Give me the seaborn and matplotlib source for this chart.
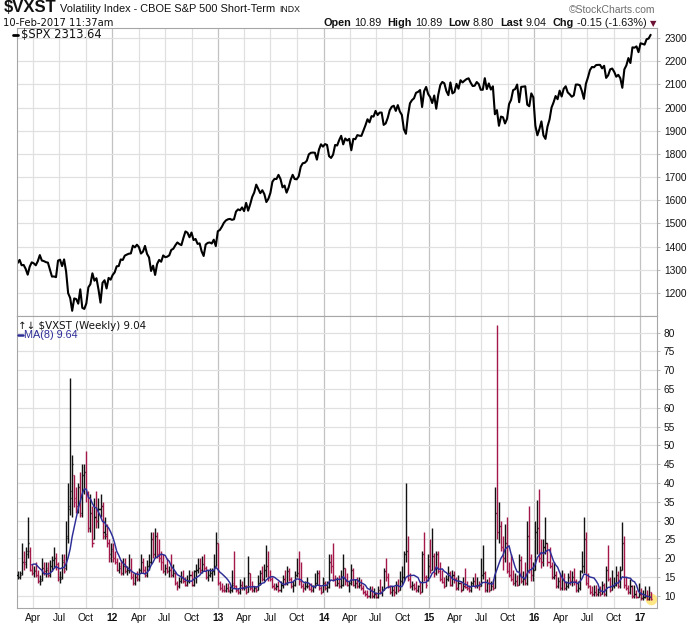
import numpy as np
import pandas as pd
import matplotlib
matplotlib.use('Agg')
import matplotlib.pyplot as plt
import matplotlib.dates as mdates
from matplotlib.lines import Line2D
from matplotlib.transforms import IdentityTransform
import seaborn as sns

# ---------------- data ----------------
# $SPX weekly closes (weeks ending Feb 11 2011 ... Feb 10 2017)
spx_2011 = [1329.15, 1343.01, 1319.88, 1321.15, 1304.28, 1279.20, 1313.80, 1332.41, 1328.17, 1319.68,
            1337.38, 1363.61, 1340.20, 1337.77, 1333.27, 1331.10, 1300.16, 1270.98, 1271.50, 1268.45,
            1339.67, 1343.80, 1316.14, 1345.02, 1292.28, 1199.38, 1178.81, 1123.53, 1176.80, 1173.97,
            1154.23, 1216.01, 1136.43, 1131.42, 1155.46, 1224.58, 1238.25, 1285.09, 1253.23, 1263.85,
            1215.65, 1158.67, 1244.28, 1255.19, 1219.66, 1265.33, 1257.60]
spx_2012 = [1277.81, 1289.09, 1315.38, 1316.33, 1344.90, 1342.64, 1361.23, 1365.74, 1369.63, 1370.87,
            1404.17, 1397.11, 1408.47, 1398.08, 1370.26, 1378.53, 1403.36, 1369.10, 1353.39, 1295.22,
            1317.82, 1278.04, 1325.66, 1342.84, 1335.02, 1362.16, 1354.68, 1356.78, 1362.66, 1385.97,
            1390.99, 1405.87, 1418.16, 1411.13, 1406.58, 1437.92, 1465.77, 1460.15, 1440.67, 1460.93,
            1428.59, 1433.19, 1411.94, 1414.20, 1379.85, 1359.88, 1409.15, 1416.18, 1418.07, 1413.58,
            1430.15, 1402.43]
spx_2013 = [1466.47, 1472.05, 1485.98, 1502.96, 1513.17, 1517.93, 1519.79, 1515.60, 1518.20, 1551.18,
            1560.70, 1556.89, 1569.19, 1553.28, 1588.85, 1555.25, 1582.24, 1614.42, 1633.70, 1667.47,
            1649.60, 1630.74, 1643.38, 1626.73, 1592.43, 1606.28, 1631.89, 1680.19, 1692.09, 1691.65,
            1709.67, 1691.42, 1655.83, 1663.50, 1632.97, 1655.17, 1687.99, 1709.91, 1691.75, 1690.50,
            1703.20, 1744.50, 1759.77, 1761.64, 1770.61, 1798.18, 1804.76, 1805.81, 1805.09, 1775.32,
            1818.32, 1841.40]
spx_2014 = [1831.37, 1842.37, 1838.70, 1790.29, 1782.59, 1797.02, 1838.63, 1836.25, 1859.45, 1878.04,
            1841.13, 1866.52, 1857.62, 1865.09, 1815.69, 1864.85, 1863.40, 1881.14, 1878.48, 1877.86,
            1900.53, 1923.57, 1949.44, 1936.16, 1962.87, 1960.96, 1985.44, 1967.57, 1978.22, 1978.34,
            1925.15, 1931.59, 1955.06, 1988.40, 2003.37, 2007.71, 1985.54, 2010.40, 1982.85, 1967.90,
            1906.13, 1886.76, 1964.58, 2018.05, 2031.92, 2039.82, 2063.50, 2067.56, 2075.37, 2002.33,
            2070.65, 2088.77]
spx_2015 = [2058.20, 2044.81, 2019.42, 2051.82, 1994.99, 2055.47, 2096.99, 2110.30, 2104.50, 2071.26,
            2053.40, 2108.10, 2061.02, 2066.96, 2102.06, 2081.18, 2117.69, 2108.29, 2116.10, 2122.73,
            2126.06, 2107.39, 2092.83, 2094.11, 2109.99, 2101.49, 2076.78, 2076.62, 2126.64, 2079.65,
            2103.84, 2077.57, 2091.54, 1970.89, 1988.87, 1921.22, 1961.05, 1958.03, 1931.34, 1951.36,
            2014.89, 2033.11, 2075.15, 2079.36, 2099.20, 2023.04, 2089.17, 2090.11, 2091.69, 2012.37,
            2005.55, 2060.99, 2043.94]
spx_2016 = [1922.03, 1880.33, 1906.90, 1940.24, 1880.05, 1864.78, 1917.78, 1948.05, 1999.99, 2022.19,
            2049.58, 2035.94, 2072.78, 2047.60, 2080.73, 2091.58, 2065.30, 2057.14, 2046.61, 2052.32,
            2099.06, 2099.13, 2096.07, 2071.22, 2037.41, 2102.95, 2129.90, 2161.74, 2175.03, 2173.60,
            2182.87, 2184.05, 2183.87, 2169.04, 2179.98, 2127.81, 2139.16, 2164.69, 2168.27, 2153.74,
            2132.98, 2141.16, 2126.41, 2085.18, 2164.45, 2181.90, 2213.35, 2191.95, 2259.53, 2258.07,
            2263.79, 2238.83]
spx_2017 = [2276.98, 2274.64, 2271.31, 2294.69, 2297.42, 2313.64]

# $VXST weekly OHLC
vx_open = [
    15.5, 15, 16, 19, 19, 22, 22, 17, 16, 17, 15.5, 14, 14.5, 17.5, 16.5, 17.5, 15.5, 18, 19.5, 20,
    18.5, 15, 15, 19.5, 17.5, 26, 34, 36, 42, 36, 34, 39, 32, 42, 43, 37, 28, 32, 25, 31,
    30, 33, 34, 27, 26, 24, 21,
    22, 20, 19, 17, 18, 16, 18, 16.5, 17, 17, 15, 13.5, 15, 14.5, 17, 19, 17, 15.5, 18, 19,
    25, 21, 26, 21, 20, 19, 16.5, 17.5, 16.5, 17, 15.5, 16, 13.5, 12.5, 14, 15, 14, 13, 14, 15.5,
    13, 16.5, 17, 17.5, 17, 18.5, 17.5, 15, 15.5, 16, 16.5, 18,
    24, 13.5, 12, 11.5, 11.5, 12, 11.4, 11.6, 13.5, 12.5, 11.5, 11, 13, 12, 12.5, 11, 16, 12, 11.5, 12,
    11.5, 13.5, 16, 14.5, 17, 18, 15, 14.5, 12.5, 12, 12.5, 11.5, 13, 14.5, 13.5, 16.5, 14.5, 12.5, 13, 15.5,
    16, 14, 12.5, 12, 12.5, 12.7, 11.8, 11.5, 12.5, 13.5, 16, 12,
    11, 13.5, 12, 12.3, 19, 18, 14.5, 13, 13.5, 12.5, 13, 17.5, 14, 13, 13.5, 17, 13, 13.5, 12.5, 13,
    12, 11, 10.5, 10, 11.5, 10, 10.5, 9.8, 11.5, 11, 11.5, 16.5, 15, 12.5, 11, 11.5, 11, 13, 11.5, 14,
    15, 21, 22, 14.5, 12.5, 12.8, 12, 11.5, 12.5, 11, 21, 15,
    15, 18, 17, 20.5, 16, 21, 16.5, 14.5, 13.8, 12.5, 14.5, 16, 13, 15.5, 14.5, 12, 13.5, 11.5, 12.5, 12.3,
    12, 11.5, 13.5, 14, 12.5, 13, 12.5, 15.5, 16, 11.5, 13.5, 11.5, 12.5, 12, 32, 27, 28.5, 23, 20, 24,
    16.5, 15.5, 14.5, 13.5, 14, 13, 19.5, 14, 14.5, 13.5, 26, 20,
    15.5, 17, 27, 28, 20, 19, 23, 24, 19, 18, 15, 15.5, 12.5, 14, 12, 14.5, 12, 12.5, 15, 14,
    15, 14, 11.5, 12, 16.5, 18, 25, 13.5, 12.5, 11, 10.5, 11, 10.5, 11, 10.5, 13, 10.5, 17, 14.5, 11.5,
    12.5, 13, 15.5, 12.5, 17, 24, 13, 12, 11, 12.5, 10, 10.5, 9.8,
    10.5, 9.5, 9.6, 9.9, 9.2, 10.89]
vx_high = [
    16.5, 16.5, 24, 22, 23, 31, 23, 18.5, 18, 19, 17, 15.5, 20, 19, 19, 19, 19.5, 20.5, 23, 21.5,
    19, 16.5, 21, 21, 30, 40, 68, 47.5, 42, 39, 40, 43, 45, 45, 48.5, 38, 37, 34, 36, 38,
    36, 37, 35, 31, 29, 25, 24,
    24, 22, 20, 19, 19.5, 20, 20, 18, 21, 20, 16, 16, 16.5, 17.5, 21, 20, 18, 19.5, 21, 27,
    27, 28, 27, 25, 22, 21, 18.5, 20, 18, 21, 18.5, 16.5, 14, 15, 16.5, 17, 15, 15.5, 17, 16.5,
    17, 18.5, 20, 20, 20.5, 21, 18, 17, 17.5, 17.5, 21, 27,
    24, 14, 13.5, 13, 13.5, 13.5, 12.5, 17, 22, 13, 12, 14.5, 14, 15, 13, 20.5, 16, 14, 12.5, 12.5,
    15.5, 17, 18, 18.5, 23.5, 22, 17, 15, 13.5, 13.5, 14, 14, 15.5, 17, 18, 17.5, 15, 14, 16.5, 20,
    22, 19, 13.5, 14, 15, 13.5, 13.5, 13, 16, 17, 17, 12.5,
    15, 14, 14, 21, 21, 24, 15.5, 15, 15.5, 17, 21, 17.5, 16, 14, 18.5, 17.5, 14.5, 15, 15, 14.5,
    13, 11.5, 11.5, 12.5, 12.5, 12, 11, 12.5, 14.5, 12.5, 17.5, 20, 16, 13, 12.5, 12.5, 14, 14.5, 16.5, 18,
    22, 40, 26, 16, 14, 13.5, 14, 13, 14, 22, 27, 15.5,
    21, 25, 28, 21.5, 22, 22, 19, 17, 15, 15.5, 18, 16.5, 17, 16.5, 15, 15.5, 14, 15, 17.5, 14,
    13, 14, 15, 16, 15, 14, 20, 23.5, 16.5, 14.5, 15, 14, 14.5, 39, 82, 35, 30, 26, 29, 31,
    19, 21, 17, 16, 15.5, 21, 20.5, 16.5, 19, 30, 34, 21,
    19, 30, 35.5, 38.5, 25, 25, 31, 24, 23, 19, 19, 16.5, 15, 16, 17, 16, 14, 16, 17, 16.5,
    17.5, 14.5, 14, 17, 22, 31, 27, 16, 13, 12.5, 13, 13, 12, 12.5, 14, 13.5, 18, 23.5, 15, 17,
    15, 18, 16.5, 18, 29.5, 26, 15, 13, 14.5, 13, 13, 11.5, 13.5,
    12, 11.5, 12.5, 11.5, 12.5, 10.89]
vx_low = [
    14.5, 14.5, 15.5, 17, 17.5, 20, 16.5, 15.5, 15, 15, 13.5, 13, 14, 15.5, 15, 15, 15, 16.5, 17.5, 17,
    14, 13.5, 14.5, 16, 17, 24, 31.5, 31, 33.5, 32, 32, 31, 31, 37, 35, 27, 27, 23, 25, 28,
    28, 31, 25, 25, 23, 19, 19,
    19, 18.5, 16.5, 16, 15.5, 15.5, 16, 15.5, 16, 14.5, 13, 13, 14, 14, 16, 16, 15, 15, 17, 18.5,
    20, 20, 20, 19, 17, 16, 15.5, 16, 15, 15, 15, 13, 11.5, 12, 13.5, 13.5, 12.5, 12.5, 13.5, 12.5,
    12.5, 13.5, 16, 16, 16, 16.5, 14.5, 14, 15, 14, 15.5, 18,
    13, 11.5, 11, 11, 11, 11, 10.8, 11, 12, 11, 10.5, 10.5, 11.5, 11.5, 10.5, 11, 11.5, 11, 11, 11,
    11.5, 13, 14, 14, 15, 14, 14, 12, 11.5, 11.5, 11, 11, 12, 13, 13, 14, 12, 11, 12.5, 15,
    13, 12, 11, 11.5, 12, 11.5, 11, 11, 12, 13, 11.5, 10.5,
    11, 11.5, 11, 12, 16, 14, 12.5, 12.5, 12, 12, 12.5, 13, 12.5, 11, 13, 12.5, 12, 12, 12, 11.5,
    10.5, 10, 9.5, 9.5, 9.5, 9.5, 9.5, 9.5, 10.5, 10, 11.5, 14, 12, 10.5, 10, 10, 10.5, 11, 11.5, 13,
    14, 19, 14, 12, 11.5, 11.5, 11, 11, 10.5, 11, 14, 12,
    14, 16, 17, 15, 15.5, 16, 14, 13.5, 12, 12.5, 14, 12.5, 12.5, 13.5, 11.5, 11.5, 11, 11.5, 12, 11.5,
    11, 11, 12.5, 12, 12, 11.5, 12.5, 14.5, 11, 11, 11, 11.5, 11.5, 12, 25, 24, 22, 17, 19, 16,
    15, 14, 13, 12.5, 12.5, 13, 13.5, 13, 13, 13, 16, 14,
    14, 17, 21, 19, 17.5, 18, 21, 18, 17.5, 14.5, 14.5, 12, 12, 11.5, 11.5, 11.5, 11.5, 12, 13, 12.5,
    13, 11, 11, 11.5, 16, 16, 13, 12, 10.5, 10, 10, 10, 10, 10, 10.5, 10, 10, 14, 11, 11.5,
    12, 12.5, 12, 12, 17, 12, 11.5, 10.5, 10.5, 9.5, 9.5, 9.5, 9.8,
    9, 9, 9.5, 9, 9, 8.80]
vx_close = [
    15, 15.5, 19, 18.5, 21, 24, 17, 16, 16.5, 15.5, 14, 14, 17.5, 16.5, 17, 15.5, 18, 19.5, 20, 18.5,
    14.5, 14.5, 19, 16.5, 25.5, 33, 38, 45, 35, 34, 39, 31.5, 42, 43, 37, 28, 32, 24, 31, 30,
    33, 34, 26, 26.5, 24, 20, 22.5,
    20, 19, 17, 17.5, 16, 18, 16.5, 16.8, 17, 15, 13.5, 15, 14.5, 17, 19, 17, 15.5, 18, 19, 25,
    21, 26, 21, 20, 19, 16.5, 17.5, 16.5, 17, 15.5, 16, 13.5, 12.5, 14, 15, 14, 13, 14, 15.5, 13,
    16.5, 17, 17.5, 17, 18.5, 17.5, 15, 15.5, 16, 16.5, 18, 24,
    13.5, 12, 11.5, 11.3, 12, 11.5, 11.6, 13, 12.5, 11.5, 11, 13, 12, 12.5, 11, 16, 12, 11.5, 12, 11.5,
    13.5, 16, 14.5, 17, 18, 15, 14.5, 12.5, 12, 12.5, 11.5, 13, 14.5, 13.5, 16.5, 14.5, 12.5, 13, 15.5, 16,
    14, 12.5, 12, 12.5, 12.7, 11.8, 11.5, 12.5, 13.5, 16, 12, 11,
    13.5, 12, 12.3, 19, 18, 14.5, 13, 13.5, 12.5, 13, 17.5, 14, 13, 13.5, 17, 13, 13.5, 12.5, 13, 12,
    11, 10.5, 10, 11.5, 10, 10.5, 9.8, 11.5, 11, 11.5, 16.5, 15, 12.5, 11, 11.5, 11, 13, 11.5, 14, 15,
    21, 22, 14.5, 12.5, 12.8, 12, 11.5, 12.5, 11, 21, 15, 13,
    18, 17, 20.5, 16, 21, 16.5, 14.5, 13.8, 12.5, 14.5, 16, 13, 15.5, 14.5, 12, 13.5, 11.5, 12.5, 12.3, 12,
    11.5, 13.5, 14, 12.5, 13, 12.5, 15.5, 16, 11.5, 13.5, 11.5, 12.5, 12, 32, 27, 28.5, 23, 20, 24, 16.5,
    15.5, 14.5, 13.5, 14, 13, 19.5, 14, 14.5, 13.5, 26, 20, 15.5,
    17, 27, 28, 20, 19, 23, 24, 19, 18, 15, 15.5, 12.5, 14, 12, 14.5, 12, 12.5, 15, 14, 15,
    14, 11.5, 12, 16.5, 18, 25, 13.5, 12.5, 11, 10.5, 11, 10.5, 11, 10.5, 13, 10.5, 17, 14.5, 11.5, 12.5,
    13, 15.5, 12.5, 17, 24, 13, 12, 11, 12.5, 10, 10.5, 9.8, 10.5,
    9.5, 9.6, 9.9, 9.2, 9.6, 9.04]

spx_ticks = list(range(1200, 2301, 100))
vx_ticks = list(range(10, 81, 5))
year_labels = ['12', '13', '14', '15', '16', '17']

spx_close = spx_2011 + spx_2012 + spx_2013 + spx_2014 + spx_2015 + spx_2016 + spx_2017
n = len(spx_close)
weeks = pd.date_range('2011-02-07', periods=n, freq='W-MON')

df = pd.DataFrame({'week': weeks, 'spx': spx_close, 'open': vx_open, 'high': vx_high,
                   'low': vx_low, 'close': vx_close})
df['x'] = mdates.date2num(df['week'])
df['ma8'] = df['close'].rolling(8).mean()
df['up'] = df['close'].diff().fillna(1) >= 0

# ---------------- style ----------------
sns.set_theme(style='white')
plt.rcParams['font.family'] = ['Liberation Sans', 'DejaVu Sans']
plt.rcParams['axes.edgecolor'] = '#a6a6a6'
plt.rcParams['axes.linewidth'] = 0.8

W, H = 700, 624
fig = plt.figure(figsize=(W / 100, H / 100), dpi=100)
ax1 = fig.add_axes([17 / W, 1 - 316 / H, 640 / W, 288 / H])
ax2 = fig.add_axes([17 / W, 1 - 607.5 / H, 640 / W, 291.5 / H])

RED = '#a3174a'
BLK = '#111111'
NAVY = '#2d2d98'

# top panel: SPX line
sns.lineplot(data=df, x='x', y='spx', ax=ax1, color='black', linewidth=1.5)

# bottom panel: OHLC bars + MA(8)
cols = np.where(df['up'], BLK, RED)
half = 3.8
ax2.scatter(df['x'].iloc[-1], df['close'].iloc[-1], s=70, color='#ffe066', alpha=0.8,
            zorder=1, linewidths=0)
ax2.vlines(df['x'], df['low'], df['high'], colors=cols, linewidth=1.0, zorder=3)
ax2.hlines(df['open'], df['x'] - half, df['x'], colors=cols, linewidth=1.0, zorder=3)
ax2.hlines(df['close'], df['x'], df['x'] + half, colors=cols, linewidth=1.0, zorder=3)
sns.lineplot(data=df, x='x', y='ma8', ax=ax2, color=NAVY, linewidth=1.05, zorder=4)

# axes
x0 = mdates.date2num(pd.Timestamp('2011-02-05'))
x1 = mdates.date2num(pd.Timestamp('2017-02-28'))
year_pos = mdates.date2num(pd.date_range('2012-01-01', periods=len(year_labels), freq='YS'))
q_dates = [d for d in pd.date_range('2011-04-01', '2016-12-31', freq='QS') if d.month != 1]
q_pos = mdates.date2num(q_dates)
q_lab = [d.strftime('%b') for d in q_dates]

for ax in (ax1, ax2):
    ax.set_xlim(x0, x1)
    ax.set_xlabel('')
    ax.set_ylabel('')
    ax.set_axisbelow(True)
    ax.set_xticks(year_pos)
    ax.set_xticks(q_pos, minor=True)
    ax.grid(True, which='major', axis='x', color='#c2c2c2', linewidth=0.9)
    ax.grid(True, which='minor', axis='x', color='#e0e0e0', linewidth=0.9)
    ax.grid(True, which='major', axis='y', color='#e0e0e0', linewidth=0.9)
    ax.yaxis.tick_right()
    ax.tick_params(axis='y', which='both', length=2, width=0.6, color='#b0b0b0',
                   labelsize=7.3, pad=3, labelcolor='#111111')
    for s in ax.spines.values():
        s.set_color('#a6a6a6')

ax1.set_ylim(1101, 2343)
ax1.set_yticks(spx_ticks)
ax1.tick_params(axis='x', which='both', length=0, labelbottom=False)

ax2.set_ylim(6.9, 84.4)
ax2.set_yticks(vx_ticks)
ax2.set_xticklabels(year_labels, fontweight='bold')
ax2.set_xticklabels(q_lab, minor=True)
ax2.tick_params(axis='x', which='both', length=0, labelsize=7.4, pad=4, labelcolor='#111111')

# ---------------- text rows laid out in pixels ----------------
renderer = fig.canvas.get_renderer()


def text_row(pieces, base_y, x_left=None, x_right=None):
    ts, ws = [], []
    for txt, kw, gap in pieces:
        t = fig.text(0, base_y, txt, transform=IdentityTransform(), ha='left',
                     va='baseline', **kw)
        ts.append(t)
        ws.append(t.get_window_extent(renderer).width)
    total = sum(ws) + sum(p[2] for p in pieces[1:])
    x = x_left if x_left is not None else x_right - total
    for i, (t, w) in enumerate(zip(ts, ws)):
        if i > 0:
            x += pieces[i][2]
        t.set_x(x)
        x += w


DK = '#111111'
text_row([('$VXST', dict(fontsize=12, fontweight='bold', color=DK), 0),
          ('Volatility Index - CBOE S&P 500 Short-Term', dict(fontsize=7.9, color=DK), 4),
          ('INDX', dict(fontsize=6.3, color=DK), 4)],
         H - 12.5, x_left=3.5)

text_row([('\u00a9StockCharts.com', dict(fontsize=7.5, color='#6f6f6f'), 0)],
         H - 13, x_right=655)

text_row([('10-Feb-2017 11:37am', dict(fontsize=7.2, color=DK, family='DejaVu Sans'), 0)],
         H - 26.5, x_left=3)

B = dict(fontsize=7.8, fontweight='bold', color=DK)
R = dict(fontsize=7.8, color=DK)
text_row([('Open', B, 0), ('10.89', R, 3), ('High', B, 6), ('10.89', R, 3),
          ('Low', B, 6), ('8.80', R, 3), ('Last', B, 6), ('9.04', R, 3),
          ('Chg', B, 6), ('-0.15 (-1.63%)', R, 3),
          ('\u25bc', dict(fontsize=6, color='#6e1235', family='DejaVu Sans'), 3)],
         H - 26.5, x_right=656)

# ---------------- legends ----------------
fig.add_artist(Line2D([12.5 / W, 18 / W], [1 - 34.5 / H] * 2, color='black', linewidth=2.0))
text_row([('$SPX 2313.64', dict(fontsize=8.3, family='DejaVu Sans', color=DK), 0)],
         H - 38, x_left=21)
text_row([('\u2191\u2193 $VXST (Weekly) 9.04', dict(fontsize=7.4, family='DejaVu Sans',
                                                     color=DK), 0)],
         H - 329, x_left=18)
fig.add_artist(Line2D([18 / W, 23 / W], [1 - 335 / H] * 2, color=NAVY, linewidth=1.8))
text_row([('MA(8) 9.64', dict(fontsize=7.8, color=NAVY), 0)], H - 338.5, x_left=23.5)

fig.savefig('out.png', dpi=100)
